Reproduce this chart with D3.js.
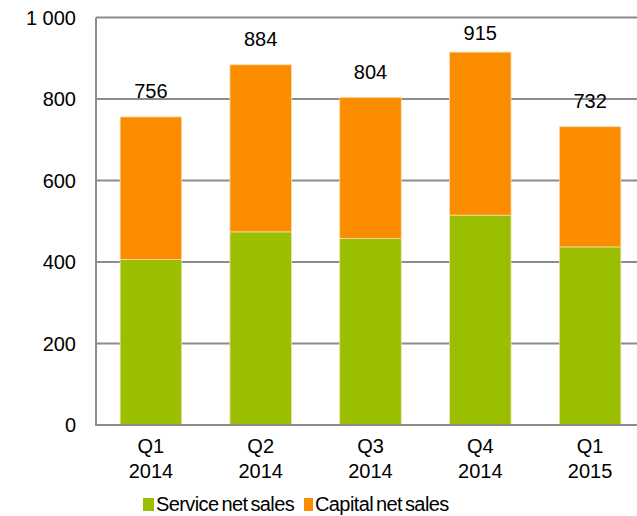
<!DOCTYPE html>
<html>
<head>
<meta charset="utf-8">
<script src="https://cdn.jsdelivr.net/npm/d3@7"></script>
<style>
  body { margin: 0; background: #fff; }
  text { font-family: "Liberation Sans", Arial, sans-serif; fill: #000; }
</style>
</head>
<body>
<svg width="637" height="516"></svg>
<script>
var quarters = ["Q1", "Q2", "Q3", "Q4", "Q1"];
var years = ["2014", "2014", "2014", "2014", "2015"];
var service = [406, 474, 458, 515, 437];
var capital = [350, 410, 346, 400, 295];
var totals = [756, 884, 804, 915, 732];
var yTicks = [0, 200, 400, 600, 800, 1000];
var seriesNames = ["Service net sales", "Capital net sales"];
var colors = ["#99bf00", "#fb8c00"];

var svg = d3.select("svg"),
    plotLeft = 96, plotRight = 645, plotTop = 17.5, plotBottom = 425;

var rows = quarters.map(function(q, i) {
  return { i: i, service: service[i], capital: capital[i] };
});

var x = d3.scaleBand()
  .domain(d3.range(quarters.length))
  .range([plotLeft, plotRight])
  .paddingInner(0.44)
  .paddingOuter(0.22);

var y = d3.scaleLinear().domain([0, 1000]).range([plotBottom, plotTop]);

// gridlines
svg.append("g")
  .selectAll("line")
  .data(yTicks)
  .enter().append("line")
  .attr("x1", plotLeft).attr("x2", 637)
  .attr("y1", function(d) { return y(d); })
  .attr("y2", function(d) { return y(d); })
  .attr("stroke", "#8c8c8c")
  .attr("stroke-width", 2);

// y labels
svg.append("g")
  .selectAll("text")
  .data(yTicks)
  .enter().append("text")
  .attr("x", plotLeft - 20)
  .attr("y", function(d) { return y(d) + 7; })
  .attr("text-anchor", "end")
  .style("font-size", "20px")
  .text(function(d) { return d === 1000 ? "1 000" : d; });

var stack = d3.stack().keys(["service", "capital"]);
var layers = stack(rows);

svg.append("g")
  .selectAll("g")
  .data(layers)
  .enter().append("g")
  .attr("fill", function(d, i) { return colors[i]; })
  .selectAll("rect")
  .data(function(d) { return d; })
  .enter().append("rect")
  .attr("x", function(d) { return x(d.data.i); })
  .attr("width", x.bandwidth())
  .attr("y", function(d) { return y(d[1]); })
  .attr("height", function(d) { return y(d[0]) - y(d[1]); })
  .attr("stroke", "#f6dca8")
  .attr("stroke-width", 0.8);

// axis lines
svg.append("line")
  .attr("x1", plotLeft).attr("x2", plotLeft)
  .attr("y1", plotTop).attr("y2", plotBottom + 1)
  .attr("stroke", "#8c8c8c").attr("stroke-width", 2);
svg.append("line")
  .attr("x1", plotLeft - 1).attr("x2", 637)
  .attr("y1", plotBottom).attr("y2", plotBottom)
  .attr("stroke", "#8c8c8c").attr("stroke-width", 2);

// total labels
svg.append("g")
  .selectAll("text")
  .data(totals)
  .enter().append("text")
  .attr("x", function(d, i) { return x(i) + x.bandwidth() / 2; })
  .attr("y", function(d) { return Math.max(y(d) - 18.5, y(1000) + 22); })
  .attr("text-anchor", "middle")
  .style("font-size", "20px")
  .text(function(d) { return d; });

// category labels
var cat = svg.append("g")
  .selectAll("text")
  .data(quarters)
  .enter().append("text")
  .attr("x", function(d, i) { return x(i) + x.bandwidth() / 2; })
  .attr("y", plotBottom + 28)
  .attr("text-anchor", "middle")
  .style("font-size", "20px");
cat.append("tspan").text(function(d) { return d; });
cat.append("tspan")
  .attr("x", function(d, i) { return x(i) + x.bandwidth() / 2; })
  .attr("dy", 25)
  .text(function(d, i) { return years[i]; });

// legend
var legendX = [143, 304];
var legend = svg.append("g")
  .selectAll("g")
  .data(seriesNames)
  .enter().append("g")
  .attr("transform", function(d, i) { return "translate(" + legendX[i] + ",498)"; });
legend.append("rect")
  .attr("width", function(d, i) { return i === 0 ? 11 : 9; })
  .attr("height", 13)
  .attr("fill", function(d, i) { return colors[i]; });
legend.append("text")
  .attr("x", function(d, i) { return i === 0 ? 13 : 11; })
  .attr("y", 13)
  .style("font-size", "20px")
  .style("letter-spacing", "-0.6px")
  .style("word-spacing", "-2px")
  .text(function(d) { return d; });
</script>
</body>
</html>
